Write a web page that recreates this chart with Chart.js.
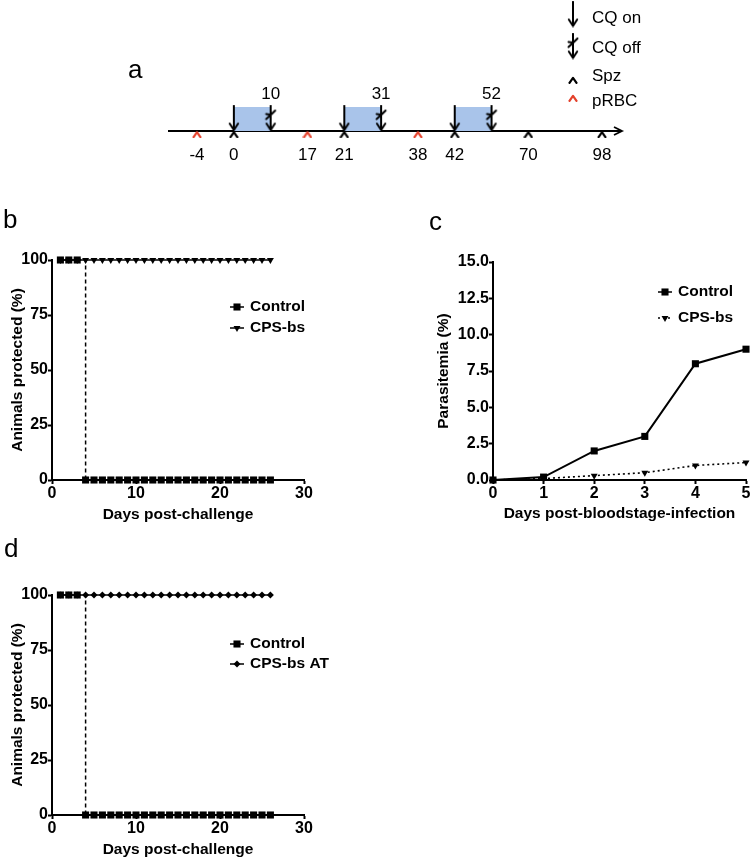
<!DOCTYPE html>
<html>
<head>
<meta charset="utf-8">
<script src="https://cdn.jsdelivr.net/npm/chart.js@4.4.1/dist/chart.umd.min.js"></script>
<style>
  body { margin: 0; background: #fff; }
  #page { position: relative; width: 754px; height: 862px; overflow: hidden; font-family: "Liberation Sans", Arial, sans-serif; }
  canvas { position: absolute; }
  .lbl { position: absolute; font-size: 26px; line-height: 1; color: #000; }
</style>
</head>
<body>
<div id="page">
  <canvas id="chartA" style="left:140px;top:0" width="614" height="170"></canvas>
  <canvas id="chartB" style="left:0;top:200px" width="380" height="330"></canvas>
  <canvas id="chartC" style="left:380px;top:200px" width="374" height="330"></canvas>
  <canvas id="chartD" style="left:0;top:535px" width="380" height="327"></canvas>
  <div class="lbl" style="left:128px;top:56px">a</div>
  <div class="lbl" style="left:3px;top:206px">b</div>
  <div class="lbl" style="left:429px;top:208px">c</div>
  <div class="lbl" style="left:4px;top:535px">d</div>
</div>
<script>
// panel a: immunisation schedule (schematic, one slot per event, 70 -> 98 spans two)
const timelineSlots = ['-4', '0', '10', '17', '21', '31', '38', '42', '52', '70', '', '98'];
const cqOnDays = [0, 21, 42];
const cqOffDays = [10, 31, 52];
const spzDays = [0, 21, 42, 70, 98];
const prbcDays = [-4, 17, 38];

// panels b and d: survival after challenge
const challengeDays = [1, 2, 3, 4, 5, 6, 7, 8, 9, 10, 11, 12, 13, 14, 15, 16, 17, 18, 19, 20, 21, 22, 23, 24, 25, 26];
const controlProtectedB = [100, 100, 100, 0, 0, 0, 0, 0, 0, 0, 0, 0, 0, 0, 0, 0, 0, 0, 0, 0, 0, 0, 0, 0, 0, 0];
const cpsBsProtected = [100, 100, 100, 100, 100, 100, 100, 100, 100, 100, 100, 100, 100, 100, 100, 100, 100, 100, 100, 100, 100, 100, 100, 100, 100, 100];
const controlProtectedD = [100, 100, 100, 0, 0, 0, 0, 0, 0, 0, 0, 0, 0, 0, 0, 0, 0, 0, 0, 0, 0, 0, 0, 0, 0, 0];
const cpsBsAtProtected = [100, 100, 100, 100, 100, 100, 100, 100, 100, 100, 100, 100, 100, 100, 100, 100, 100, 100, 100, 100, 100, 100, 100, 100, 100, 100];

// panel c: parasitemia after blood-stage infection
const infectionDays = [0, 1, 2, 3, 4, 5];
const controlParasitemia = [0, 0.2, 2.0, 3.0, 8.0, 9.0];
const cpsBsParasitemia = [0, 0.1, 0.3, 0.5, 1.0, 1.2];

const FONT = '"Liberation Sans", Arial, sans-serif';
Chart.defaults.font.family = FONT;
Chart.defaults.color = '#000';

// ---------- glyphs for panel a ----------
function makeGlyph(w, h, draw) {
  const c = document.createElement('canvas');
  c.width = w; c.height = h;
  const g = c.getContext('2d');
  g.strokeStyle = '#000';
  g.lineWidth = 2;
  g.lineCap = 'round';
  g.lineJoin = 'round';
  draw(g);
  return c;
}
const arrowOn = makeGlyph(12, 27, g => {
  g.beginPath();
  g.moveTo(6, 1); g.lineTo(6, 25.5);
  g.moveTo(1.8, 19); g.lineTo(6, 25.5); g.lineTo(10.2, 19);
  g.stroke();
});
const arrowOff = makeGlyph(14, 27, g => {
  g.beginPath();
  g.moveTo(7, 1); g.lineTo(7, 25.5);
  g.moveTo(2.8, 19); g.lineTo(7, 25.5); g.lineTo(11.2, 19);
  g.moveTo(2.5, 14.5); g.quadraticCurveTo(7, 10.5, 11.5, 6);
  g.moveTo(2.5, 9.5); g.lineTo(6, 10);
  g.stroke();
});
function caret(color) {
  return makeGlyph(10, 8, g => {
    g.strokeStyle = color;
    g.lineWidth = 2.2;
    g.beginPath();
    g.moveTo(1.5, 6.8); g.lineTo(5, 1.8); g.lineTo(8.5, 6.8);
    g.stroke();
  });
}
const caretSpz = caret('#000');
const caretRbc = caret('#e4412b');

const cqWindow = timelineSlots.map(s => {
  if (s === '') return null;
  const d = Number(s);
  return cqOnDays.some((on, i) => d >= on && d <= cqOffDays[i]) ? 1 : null;
});

const timelineExtras = {
  id: 'timelineExtras',
  beforeDatasetsDraw(chart) {
    const { ctx, chartArea } = chart;
    const y0 = chart.scales.y.getPixelForValue(0);
    const x1 = chartArea.left - 29, x2 = chartArea.right + 20;
    ctx.save();
    ctx.strokeStyle = '#000';
    ctx.lineWidth = 1.8;
    ctx.beginPath();
    ctx.moveTo(x1, y0); ctx.lineTo(x2, y0);
    ctx.moveTo(x2 - 8, y0 - 4); ctx.lineTo(x2, y0); ctx.lineTo(x2 - 8, y0 + 4);
    ctx.stroke();
    ctx.restore();
  },
  afterDraw(chart) {
    const { ctx } = chart;
    const xs = chart.scales.x;
    ctx.save();
    ctx.fillStyle = '#000';
    ctx.font = '17px ' + FONT;
    ctx.textAlign = 'center';
    ctx.textBaseline = 'middle';
    cqOffDays.forEach(d => {
      ctx.fillText(String(d), xs.getPixelForValue(timelineSlots.indexOf(String(d))), 94);
    });
    // key
    const items = [
      [arrowOn, 'CQ on', 14, 18],
      [arrowOff, 'CQ off', 46, 48],
      [caretSpz, 'Spz', 80, 76],
      [caretRbc, 'pRBC', 98, 101]
    ];
    ctx.font = '17px ' + FONT;
    ctx.textAlign = 'left';
    items.forEach(([img, txt, gy, ty]) => {
      ctx.drawImage(img, 433 - img.width / 2, gy - img.height / 2);
      ctx.fillText(txt, 452, ty);
    });
    ctx.restore();
  }
};

const eventSet = (label, days, y, img) => ({
  label,
  data: days.map(d => ({ x: String(d), y })),
  showLine: false,
  pointStyle: img,
  pointRadius: 3,
  clip: false
});

new Chart(document.getElementById('chartA'), {
  type: 'line',
  data: {
    labels: timelineSlots,
    datasets: [
      eventSet('CQ on', cqOnDays, 0.54, arrowOn),
      eventSet('CQ off', cqOffDays, 0.54, arrowOff),
      eventSet('Spz', spzDays, -0.14, caretSpz),
      eventSet('pRBC', prbcDays, -0.14, caretRbc),
      {
        label: 'CQ cover',
        data: cqWindow,
        fill: 'origin',
        spanGaps: false,
        backgroundColor: '#a9c4ea',
        borderWidth: 0,
        pointRadius: 0
      }
    ]
  },
  options: {
    responsive: false,
    animation: false,
    events: [],
    layout: { padding: { left: 57, right: 152, top: 95, bottom: 0 } },
    plugins: { legend: { display: false }, tooltip: { enabled: false } },
    scales: {
      x: {
        type: 'category',
        grid: { display: false, drawTicks: false },
        border: { display: false },
        ticks: {
          autoSkip: false, maxRotation: 0, padding: 7,
          font: { size: 17 }, color: '#000',
          callback(value) {
            const lbl = this.getLabelForValue(value);
            return (lbl === '' || cqOffDays.includes(Number(lbl))) ? '' : lbl;
          }
        },
        afterFit(s) { s.height = 31.8; }
      },
      y: { display: false, min: -0.3, max: 1.5 }
    }
  },
  plugins: [timelineExtras]
});

// ---------- panels b, c, d ----------
function drawMarker(ctx, style, r, x, y) {
  ctx.beginPath();
  if (style === 'rect') {
    const s = r * Math.SQRT1_2;
    ctx.rect(x - s, y - s, 2 * s, 2 * s);
  } else if (style === 'triangle') {
    ctx.moveTo(x - r * 0.866, y - r * 0.5);
    ctx.lineTo(x + r * 0.866, y - r * 0.5);
    ctx.lineTo(x, y + r);
    ctx.closePath();
  } else {
    ctx.moveTo(x, y - r); ctx.lineTo(x + r, y); ctx.lineTo(x, y + r); ctx.lineTo(x - r, y);
    ctx.closePath();
  }
  ctx.fill();
}

const keyPlugin = {
  id: 'keyPlugin',
  afterDraw(chart, args, opts) {
    const ctx = chart.ctx;
    ctx.save();
    ctx.fillStyle = '#000';
    ctx.strokeStyle = '#000';
    ctx.font = 'bold 15.5px ' + FONT;
    ctx.textBaseline = 'middle';
    chart.data.datasets.forEach((ds, i) => {
      const y = opts.y + i * opts.gap;
      ctx.lineWidth = 1.5;
      ctx.setLineDash(ds.borderDash || []);
      ctx.beginPath();
      ctx.moveTo(opts.x - 7, y); ctx.lineTo(opts.x + 7, y);
      ctx.stroke();
      ctx.setLineDash([]);
      drawMarker(ctx, ds.pointStyle, ds.pointRadius, opts.x, y);
      ctx.fillText(ds.label, opts.x + 13, y);
    });
    ctx.restore();
  }
};

const tickFont = { size: 16, weight: 'bold' };
const titleFont = { size: 15.5, weight: 'bold' };

function axis(extra) {
  return Object.assign({
    type: 'linear',
    border: { display: true, color: '#000', width: 2 },
    grid: { display: true, drawOnChartArea: false, drawTicks: true, tickLength: 4, tickWidth: 2, tickColor: '#000', color: '#000' }
  }, extra);
}

function survival(id, treatedLabel, treatedStyle, treatedRadius, controlVals, treatedVals, key, xHeight, xTitlePad) {
  return new Chart(document.getElementById(id), {
    type: 'line',
    data: {
      datasets: [
        {
          label: 'Control',
          data: challengeDays.map((d, i) => ({ x: d, y: controlVals[i] })),
          stepped: 'before',
          borderColor: '#000', backgroundColor: '#000', borderWidth: 1.5,
          pointStyle: 'rect', pointRadius: 5, pointBorderWidth: 0,
          segment: { borderDash: c => c.p0.parsed.y !== c.p1.parsed.y ? [4, 3] : undefined },
          clip: false
        },
        {
          label: treatedLabel,
          data: challengeDays.map((d, i) => ({ x: d, y: treatedVals[i] })),
          borderColor: '#000', backgroundColor: '#000', borderWidth: 1.5,
          pointStyle: treatedStyle, rotation: treatedStyle === 'triangle' ? 180 : 0,
          pointRadius: treatedRadius, pointBorderWidth: 0,
          clip: false
        }
      ]
    },
    options: {
      responsive: false,
      animation: false,
      events: [],
      layout: { padding: { left: 0, right: 76, top: 60, bottom: 0 } },
      plugins: { legend: { display: false }, tooltip: { enabled: false }, keyPlugin: key },
      scales: {
        x: axis({
          min: 0, max: 30,
          ticks: { stepSize: 10, font: tickFont, color: '#000', padding: 0, maxRotation: 0 },
          title: { display: true, text: 'Days post-challenge', color: '#000', font: titleFont, padding: { top: 0, bottom: xTitlePad } },
          afterFit(s) { s.height = xHeight; }
        }),
        y: axis({
          min: 0, max: 100,
          ticks: { stepSize: 25, font: tickFont, color: '#000', padding: 0 },
          title: { display: true, text: 'Animals protected (%)', color: '#000', font: titleFont, padding: { top: 8, bottom: 0 } },
          afterFit(s) { s.width = 52; }
        })
      }
    },
    plugins: [keyPlugin]
  });
}

survival('chartB', 'CPS-bs', 'triangle', 4, controlProtectedB, cpsBsProtected, { x: 237, y: 107, gap: 21 }, 50, 6);
survival('chartD', 'CPS-bs AT', 'rectRot', 3.5, controlProtectedD, cpsBsAtProtected, { x: 237, y: 109, gap: 20 }, 47, 3);

new Chart(document.getElementById('chartC'), {
  type: 'line',
  data: {
    datasets: [
      {
        label: 'Control',
        data: infectionDays.map((d, i) => ({ x: d, y: controlParasitemia[i] })),
        borderColor: '#000', backgroundColor: '#000', borderWidth: 2,
        pointStyle: 'rect', pointRadius: 5, pointBorderWidth: 0,
        clip: false
      },
      {
        label: 'CPS-bs',
        data: infectionDays.map((d, i) => ({ x: d, y: cpsBsParasitemia[i] })),
        borderColor: '#000', backgroundColor: '#000', borderWidth: 1.6, borderDash: [2, 3],
        pointStyle: 'triangle', rotation: 180, pointRadius: 4, pointBorderWidth: 0,
        clip: false
      }
    ]
  },
  options: {
    responsive: false,
    animation: false,
    events: [],
    layout: { padding: { left: 48, right: 8, top: 62, bottom: 0 } },
    plugins: { legend: { display: false }, tooltip: { enabled: false }, keyPlugin: { x: 285, y: 92, gap: 26 } },
    scales: {
      x: axis({
        min: 0, max: 5,
        ticks: { stepSize: 1, font: tickFont, color: '#000', padding: 0, maxRotation: 0 },
        title: { display: true, text: 'Days post-bloodstage-infection', color: '#000', font: titleFont, padding: { top: 0, bottom: 7 } },
        afterFit(s) { s.height = 50; }
      }),
      y: axis({
        min: 0, max: 15,
        ticks: { stepSize: 2.5, font: tickFont, color: '#000', padding: 0, callback: v => v.toFixed(1) },
        title: { display: true, text: 'Parasitemia (%)', color: '#000', font: titleFont, padding: { top: 6, bottom: 0 } },
        afterFit(s) { s.width = 65; }
      })
    }
  },
  plugins: [keyPlugin]
});
</script>
</body>
</html>
